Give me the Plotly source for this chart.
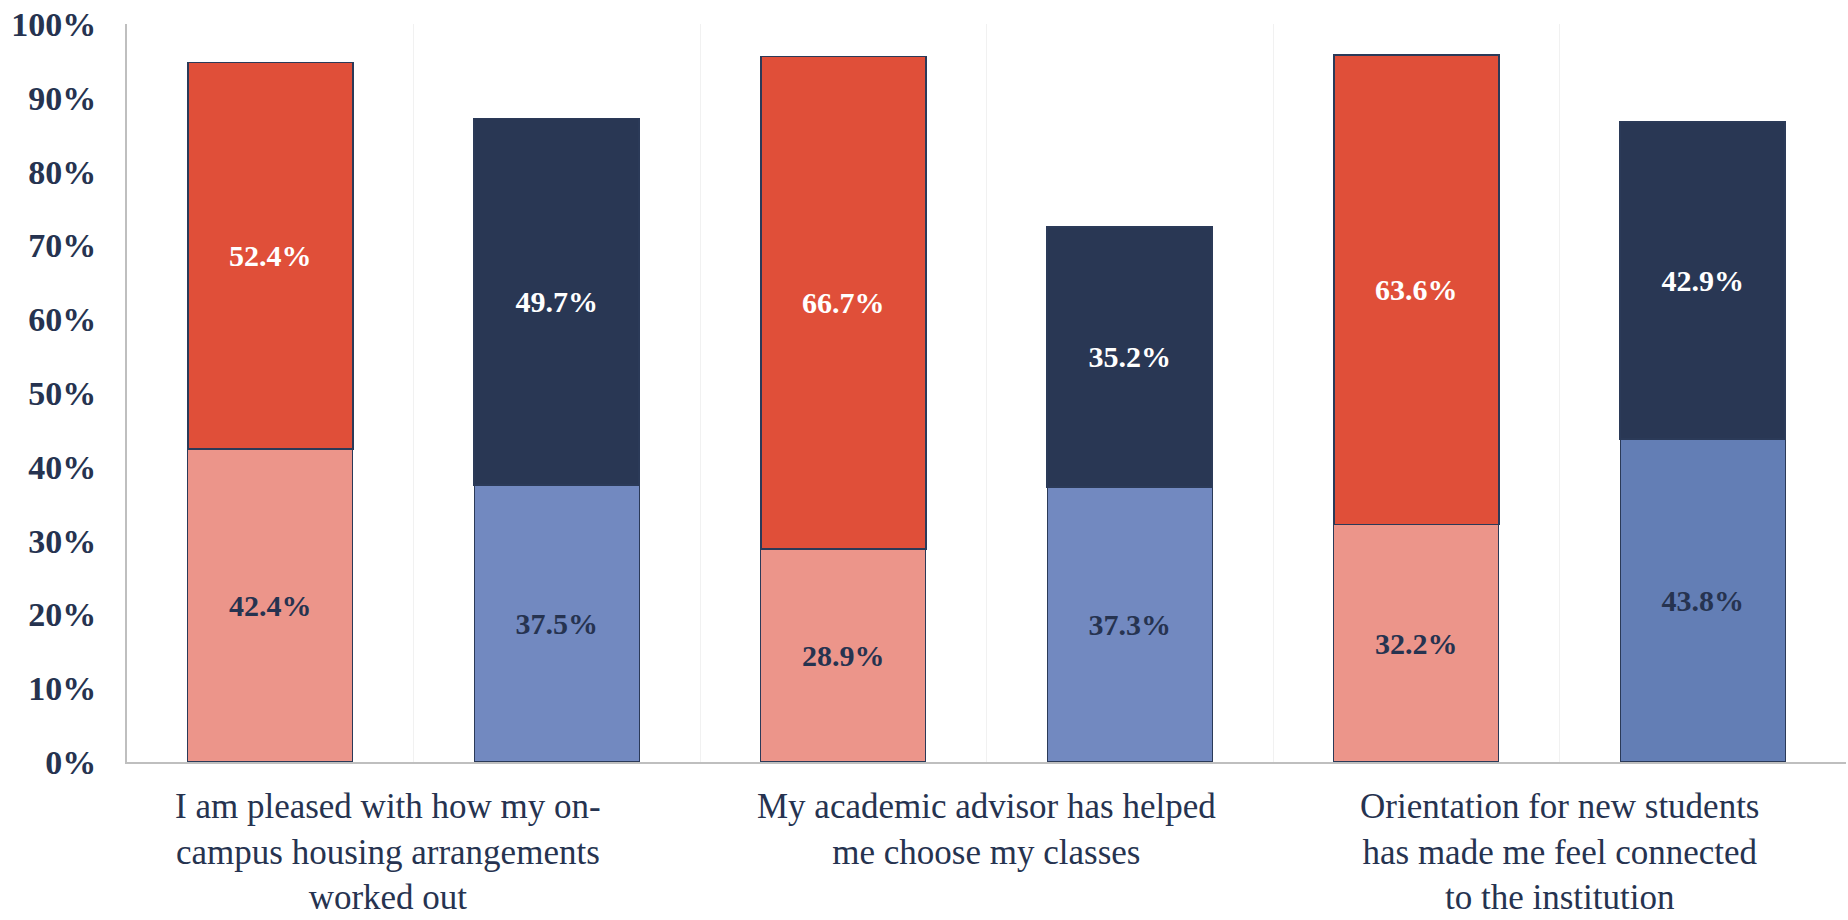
import plotly.graph_objects as go

categories = [
    "I am pleased with how my on-<br>campus housing arrangements<br>worked out",
    "My academic advisor has helped<br>me choose my classes",
    "Orientation for new students<br>has made me feel connected<br>to the institution",
]
category_pos = [0.5, 2.5, 4.5]
slots = [0, 1, 2, 3, 4, 5]
bottom_values = [42.4, 37.5, 28.9, 37.3, 32.2, 43.8]
top_values = [52.4, 49.7, 66.7, 35.2, 63.6, 42.9]
bottom_colors = ["#EC958A", "#7289C0", "#EC958A", "#7289C0", "#EC958A", "#637EB5"]
top_colors = ["#E04F39", "#293754", "#E04F39", "#293754", "#E04F39", "#293754"]

FONT = "Liberation Serif"
NAVY = "#263350"

fig = go.Figure()
fig.add_trace(go.Bar(
    x=slots, y=bottom_values,
    marker=dict(color=bottom_colors, line=dict(color="#2B3A58", width=1.2)),
    text=[f"{v:.1f}%" for v in bottom_values],
    textposition="inside", insidetextanchor="middle",
    textfont=dict(family=FONT, size=30, color=NAVY, weight="bold"),
    hoverinfo="skip",
))
fig.add_trace(go.Bar(
    x=slots, y=top_values,
    marker=dict(color=top_colors, line=dict(color="#2B3A58", width=1.6)),
    text=[f"{v:.1f}%" for v in top_values],
    textposition="inside", insidetextanchor="middle",
    textfont=dict(family=FONT, size=30, color="white", weight="bold"),
    hoverinfo="skip",
))

for i, (pos, label) in enumerate(zip(category_pos, categories)):
    fig.add_annotation(
        x=pos, y=0, xref="x", yref="paper",
        text=label, showarrow=False,
        xanchor="center", yanchor="top", align="center",
        xshift=-26 if i == 0 else 0, yshift=-23,
        font=dict(family=FONT, size=35, color=NAVY),
    )

fig.update_layout(
    width=1848, height=920,
    barmode="stack", bargap=0.424,
    showlegend=False,
    plot_bgcolor="white", paper_bgcolor="white",
    margin=dict(l=127, r=2, t=24, b=158),
    font=dict(family=FONT, color=NAVY),
)
fig.update_xaxes(
    range=[-0.5, 5.5], automargin=False,
    tickmode="array", tickvals=[0.5, 1.5, 2.5, 3.5, 4.5, 5.5],
    showticklabels=False,
    showgrid=True, gridcolor="#F1F1F1", gridwidth=1,
    showline=True, linecolor="#BFBFBF", linewidth=2,
    zeroline=False,
)
fig.update_yaxes(
    range=[0, 100], dtick=10, ticksuffix="%", automargin=False,
    ticklabeloverflow="allow",
    tickfont=dict(family=FONT, size=34, color=NAVY, weight="bold"),
    showgrid=False, zeroline=False,
    showline=True, linecolor="#BFBFBF", linewidth=2,
    ticks="outside", ticklen=22, tickcolor="rgba(0,0,0,0)",
)

fig.write_html(
    "out.html",
    config={"displayModeBar": False},
    post_script="document.body.style.margin='0';document.body.style.overflow='hidden';",
)
